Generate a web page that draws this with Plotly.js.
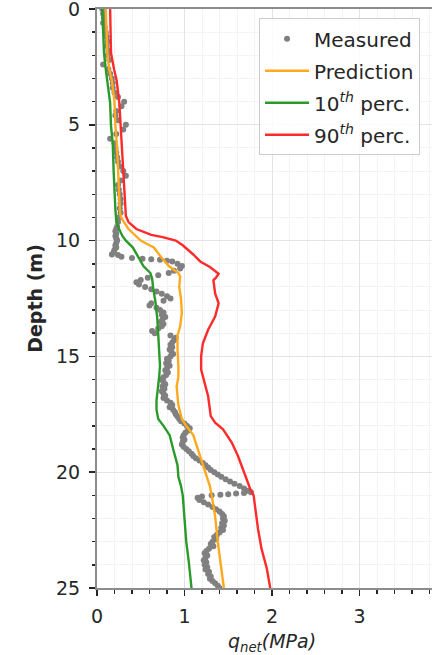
<!DOCTYPE html>
<html><head><meta charset="utf-8">
<script src="https://cdn.plot.ly/plotly-3.0.1.min.js"></script>
<style>html,body{margin:0;padding:0;overflow:hidden;background:#fff;width:432px;height:655px}#chart{width:450px;height:655px}</style>
</head><body><div id="chart"></div>
<script>
// ---- Measured q_net (MPa) vs depth (m) ----
const measDepth = [
  0,0.2,0.4,0.6,0.8,1,1.2,1.4,1.6,1.8,
  2,2.2,2.4,2.6,2.8,3,3.2,3.4,3.6,3.8,
  4,4.2,4.4,4.6,4.8,5,5.2,5.4,5.6,5.8,
  6,6.2,6.4,6.6,6.8,7,7.2,7.4,7.6,7.8,
  8,8.2,8.4,8.6,8.8,9,9.2,9.4,
  9.5,9.6,9.7,9.8,9.9,10,10.1,10.2,10.3,10.4,
  10.5,10.6,10.62,10.7,10.75,10.78,10.8,10.83,10.87,10.9,
  11,11.1,11.2,11.3,11.4,11.5,11.6,11.7,11.8,11.9,
  12,12.1,12.2,12.3,12.4,12.5,12.6,12.7,12.8,12.9,
  13,13.1,13.2,13.3,13.4,13.5,13.6,13.7,13.8,13.9,
  14,14.1,14.2,14.3,14.4,14.5,14.6,14.7,14.8,14.9,
  15,15.1,15.2,15.3,15.4,15.5,15.6,15.7,15.8,15.9,
  16,16.1,16.2,16.3,16.4,16.5,16.6,16.7,16.8,16.9,
  17,17.1,17.2,17.3,17.4,17.5,17.6,17.7,17.8,17.9,
  18,18.1,18.2,18.3,18.4,18.5,18.6,18.7,18.8,18.9,
  19,19.1,19.2,19.3,19.4,19.5,19.6,19.7,19.8,19.9,
  20,20.1,20.2,20.3,20.4,20.5,20.6,20.7,20.8,
  20.87,20.9,20.92,20.95,20.97,21,21.05,
  21.1,21.2,21.3,21.4,21.5,21.6,21.7,21.8,21.9,
  22,22.1,22.2,22.3,22.4,22.5,22.6,22.7,22.8,22.9,
  23,23.1,23.2,23.3,23.4,23.5,23.6,23.7,23.8,23.9,
  24,24.1,24.2,24.3,24.4,24.5,24.6,24.7,24.8,24.9,25
];
const measQ = [
  0.06,0.07,0.08,0.07,0.09,0.10,0.11,0.12,0.11,0.13,
  0.12,0.14,0.07,0.13,0.15,0.17,0.18,0.18,0.20,0.24,
  0.31,0.28,0.22,0.21,0.24,0.33,0.30,0.22,0.15,0.20,
  0.21,0.22,0.23,0.24,0.26,0.30,0.33,0.27,0.24,0.25,
  0.26,0.27,0.27,0.26,0.27,0.25,0.24,0.23,
  0.22,0.21,0.22,0.21,0.22,0.23,0.22,0.21,0.22,0.20,
  0.19,0.17,0.24,0.28,0.40,0.52,0.62,0.72,0.80,0.86,
  0.92,0.97,0.95,0.88,0.82,0.70,0.58,0.50,0.45,0.48,
  0.55,0.62,0.68,0.74,0.80,0.84,0.76,0.62,0.60,0.68,
  0.72,0.76,0.74,0.78,0.75,0.73,0.76,0.74,0.70,0.63,
  0.66,0.84,0.90,0.88,0.86,0.84,0.86,0.83,0.85,0.87,
  0.84,0.80,0.82,0.79,0.83,0.80,0.78,0.81,0.79,0.76,
  0.73,0.76,0.78,0.75,0.77,0.74,0.76,0.78,0.76,0.80,
  0.84,0.86,0.83,0.87,0.89,0.90,0.92,0.94,0.96,1.00,
  1.03,1.06,1.04,1.01,0.99,0.98,1.00,0.98,0.97,0.99,
  1.02,1.05,1.08,1.10,1.13,1.17,1.21,1.24,1.27,1.30,
  1.34,1.38,1.42,1.47,1.52,1.57,1.63,1.68,1.72,
  1.76,1.68,1.59,1.50,1.41,1.31,1.20,
  1.15,1.17,1.22,1.27,1.32,1.36,1.40,1.43,1.45,
  1.44,1.46,1.43,1.45,1.42,1.44,1.40,1.37,1.34,1.36,
  1.32,1.30,1.33,1.28,1.25,1.23,1.26,1.24,1.22,1.25,
  1.23,1.26,1.24,1.28,1.27,1.30,1.29,1.32,1.35,1.38,1.40
];

// ---- Prediction ----
const predDepth = [0,1,2,2.6,3.1,4,5,6,7,8,8.6,8.94,9.1,9.5,9.85,10,10.2,10.3,10.7,11.1,11.4,11.55,12,12.5,13.1,13.7,14.1,14.7,15.4,15.9,16.3,17.1,17.7,18,18.4,19,19.6,20.2,20.6,21,21.9,23,23.9,25];
const predQ     = [0.10,0.11,0.12,0.14,0.17,0.20,0.21,0.23,0.24,0.25,0.26,0.27,0.29,0.36,0.45,0.50,0.60,0.65,0.73,0.82,0.93,0.95,0.94,0.96,0.97,0.95,0.92,0.92,0.93,0.93,0.91,0.93,0.97,1.02,1.10,1.15,1.20,1.25,1.29,1.31,1.35,1.38,1.41,1.45];

// ---- 10th percentile ----
const p10Depth = [0,1.9,2.6,3.1,4.05,5.05,5.8,7,8,8.65,9.1,9.4,9.8,10,10.3,10.7,11.1,11.4,11.64,12,12.7,13.4,14.1,14.9,15.4,15.9,16.2,16.9,17.3,17.7,18,18.4,19,19.7,20.2,20.6,21,21.9,23,23.9,25];
const p10Q     = [0.06,0.08,0.10,0.12,0.15,0.16,0.18,0.19,0.20,0.21,0.22,0.24,0.29,0.33,0.41,0.47,0.53,0.61,0.63,0.64,0.67,0.69,0.70,0.71,0.72,0.71,0.70,0.68,0.68,0.70,0.76,0.83,0.87,0.92,0.93,0.96,0.98,1.00,1.02,1.05,1.08];

// ---- 90th percentile ----
const p90Depth = [0,1.9,2.6,3.1,4.05,5.05,5.8,7,8,8.65,8.94,9.2,9.5,9.75,9.85,10,10.2,10.6,10.9,11.14,11.43,11.6,11.71,12.28,12.71,13.28,13.85,14.43,15,15.57,16.15,16.72,17.58,17.86,18.15,18.72,19.29,19.86,20.4,20.72,21,21.58,22.44,23.3,24.15,25];
const p90Q     = [0.15,0.16,0.195,0.225,0.255,0.27,0.285,0.30,0.31,0.32,0.33,0.36,0.45,0.62,0.75,0.90,0.98,1.10,1.18,1.29,1.39,1.36,1.33,1.35,1.39,1.35,1.27,1.21,1.19,1.19,1.23,1.27,1.30,1.35,1.44,1.54,1.61,1.67,1.72,1.75,1.79,1.81,1.84,1.88,1.94,1.98];

// ---- Axes ticks ----
const xTickVals = [0,1,2,3];
const xTickText = ['0','1','2','3'];
const yTickVals = [0,5,10,15,20,25];
const yTickText = ['0','5','10','15','20','25'];

const seriesNames = ['Measured','Prediction','10<sup><i>th</i></sup> perc.','90<sup><i>th</i></sup> perc.'];

const traces = [
  {x: measQ, y: measDepth, type: 'scatter', mode: 'markers', name: seriesNames[0], legendgroup: 'a',
   marker: {color: '#808080', size: 6}},
  {x: predQ, y: predDepth, type: 'scatter', mode: 'lines', name: seriesNames[1], legendgroup: 'b',
   line: {color: '#ffa91f', width: 2.4}},
  {x: p10Q, y: p10Depth, type: 'scatter', mode: 'lines', name: seriesNames[2], legendgroup: 'c',
   line: {color: '#2a9a2a', width: 2.4}},
  {x: p90Q, y: p90Depth, type: 'scatter', mode: 'lines', name: seriesNames[3], legendgroup: 'd',
   line: {color: '#ff2a2a', width: 2.4}}
];

const axisCommon = {
  ticks: 'outside', ticklen: 6, tickwidth: 1.5, tickcolor: '#262626',
  showline: true, linecolor: '#8c8c8c', linewidth: 2, mirror: true,
  showgrid: true, gridcolor: '#e3e3e3', gridwidth: 1, zeroline: false,
  fixedrange: true, tickfont: {size: 19, color: '#262626'},
  ticklabeloverflow: 'allow'
};

const layout = {
  width: 450, height: 655,
  margin: {l: 97, r: 3, t: 9, b: 67},
  paper_bgcolor: '#ffffff', plot_bgcolor: '#ffffff',
  font: {family: 'DejaVu Sans', size: 19, color: '#262626'},
  showlegend: true,
  legend: {x: 0.463, y: 0.984, xanchor: 'left', yanchor: 'top',
    bgcolor: 'rgba(255,255,255,0.85)', bordercolor: '#cccccc', borderwidth: 1,
    font: {size: 20, color: '#262626'}, traceorder: 'grouped', tracegroupgap: 3, itemwidth: 44},
  xaxis: Object.assign({}, axisCommon, {
    range: [0, 4], tickmode: 'array', tickvals: xTickVals, ticktext: xTickText,
    ticklabelstandoff: 4,
    minor: {tickmode: 'linear', tick0: 0, dtick: 0.2, ticks: 'outside', ticklen: 3.5, tickcolor: '#262626', showgrid: true, gridcolor: '#f3f3f3'},
    title: {text: '<i>q</i><sub><i>net</i></sub><i>(MPa)</i>', font: {size: 19, color: '#262626'}, standoff: 16}
  }),
  yaxis: Object.assign({}, axisCommon, {
    range: [25, 0], tickmode: 'array', tickvals: yTickVals, ticktext: yTickText,
    ticklabelstandoff: 5,
    minor: {tickmode: 'linear', tick0: 0, dtick: 1, ticks: 'outside', ticklen: 3.5, tickcolor: '#262626', showgrid: true, gridcolor: '#f3f3f3'},
    title: {text: '<b>Depth (m)</b>', font: {size: 19, color: '#262626'}, standoff: 8}
  })
};

Plotly.newPlot('chart', traces, layout, {displayModeBar: false, staticPlot: true});
</script></body></html>
